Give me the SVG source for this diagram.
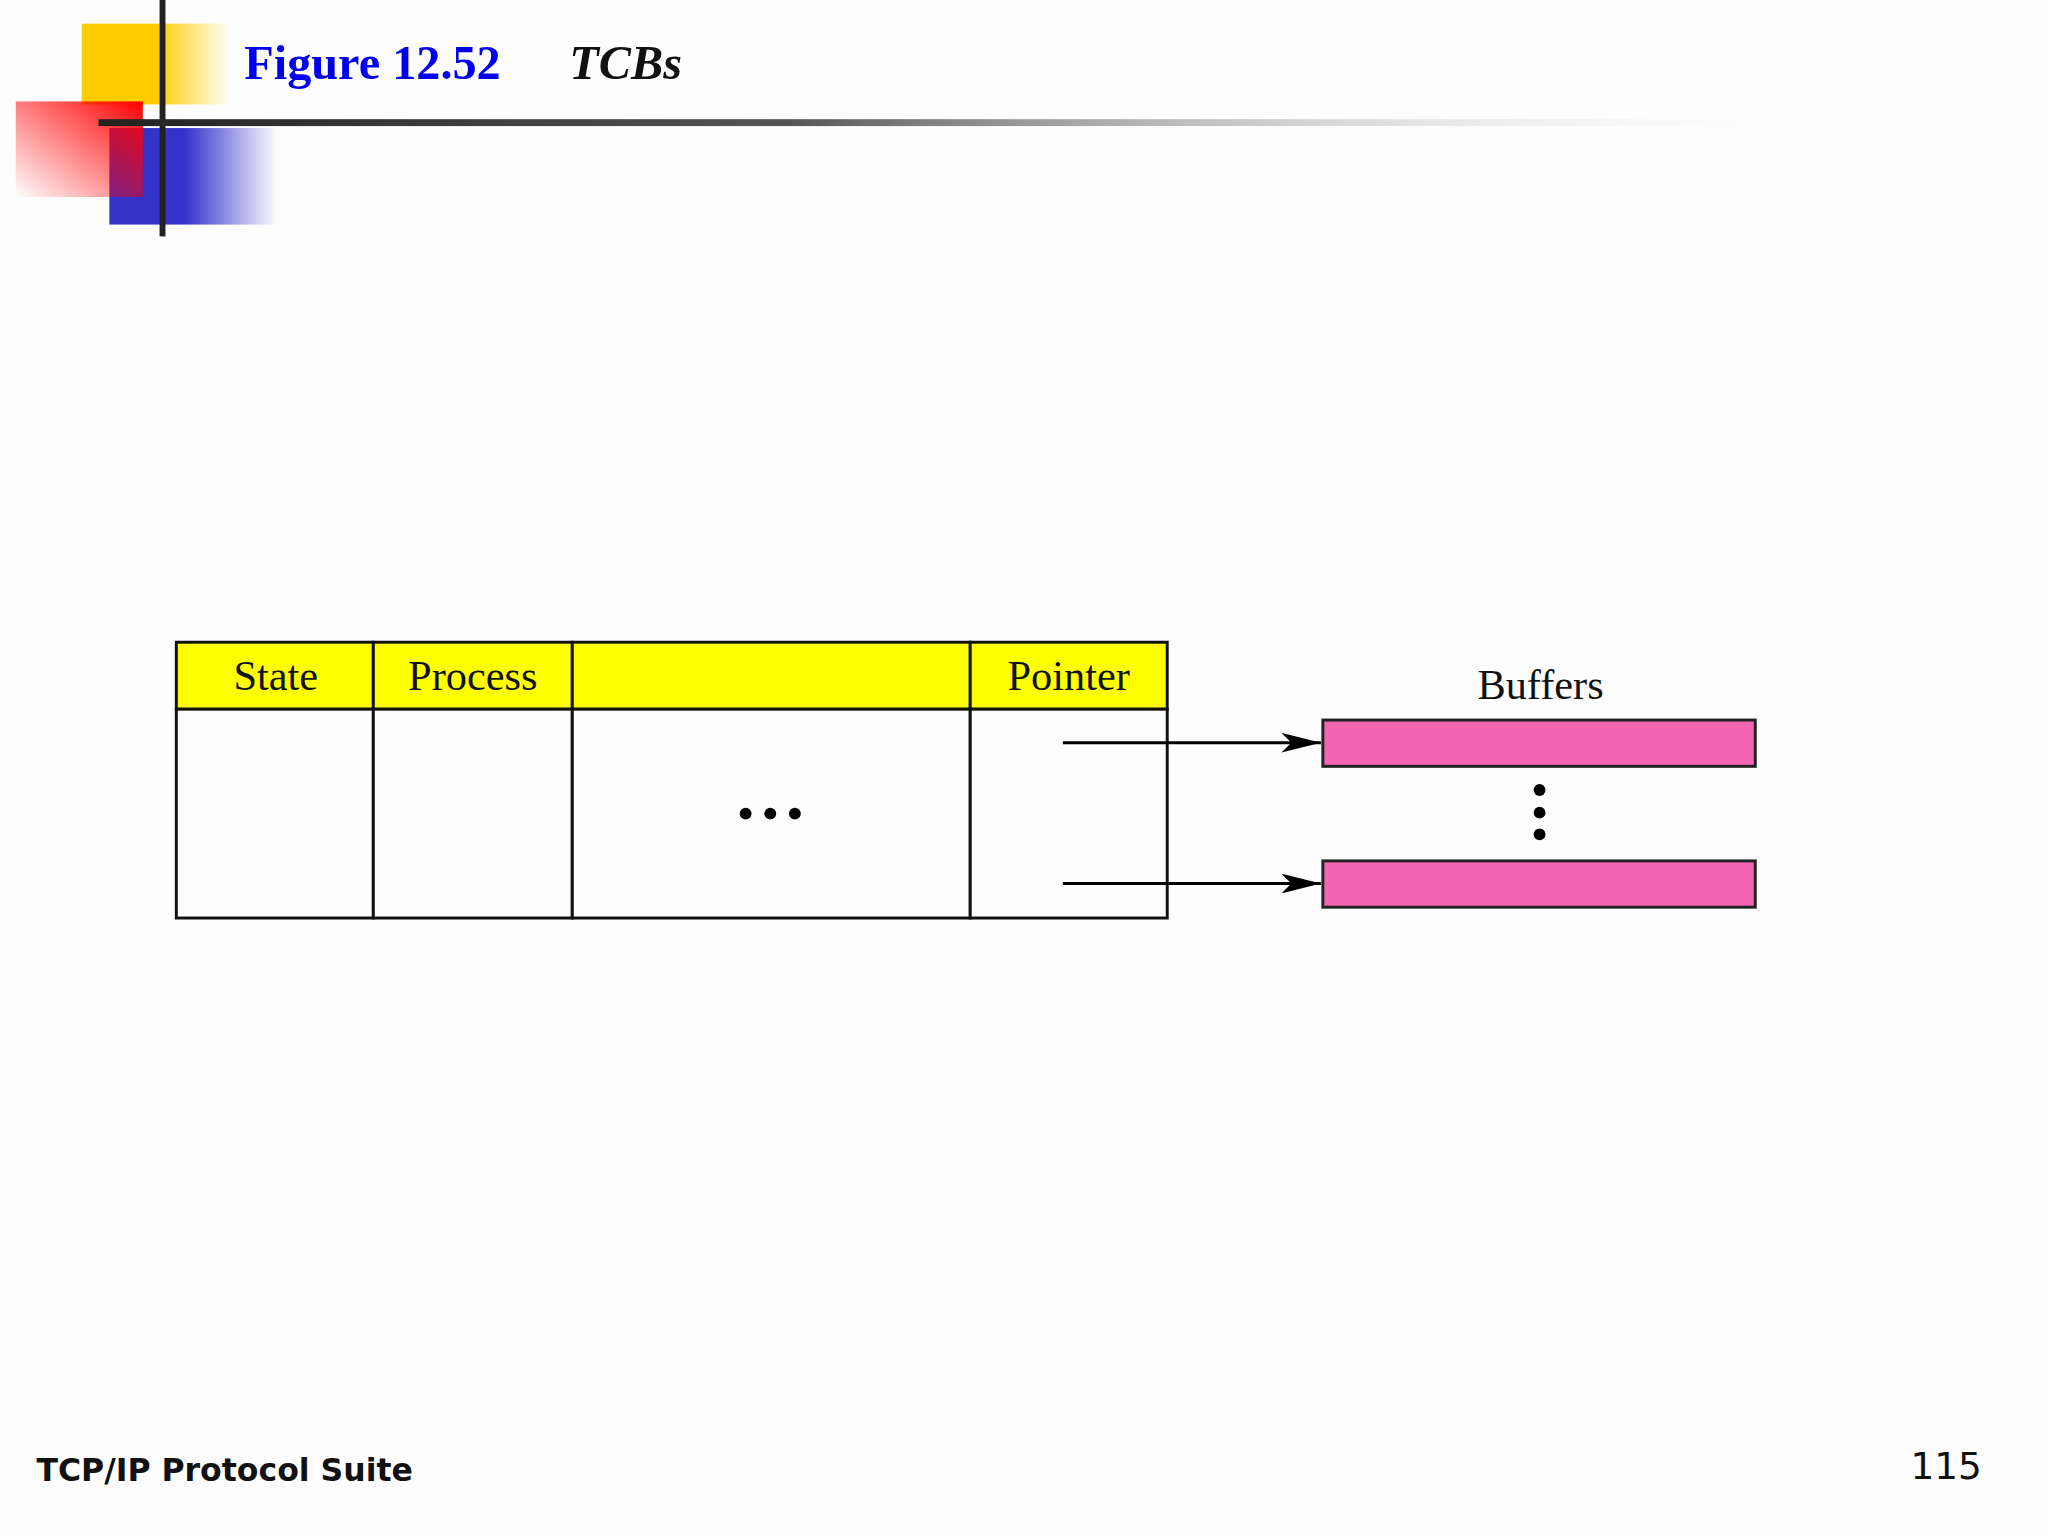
<svg xmlns="http://www.w3.org/2000/svg" width="2048" height="1536" viewBox="0 0 2048 1536">
<defs>
<linearGradient id="gy" x1="0" y1="0" x2="1" y2="0"><stop offset="0.5" stop-color="#ffcc00"/><stop offset="1" stop-color="#ffcc00" stop-opacity="0"/></linearGradient>
<linearGradient id="gr" x1="1" y1="0" x2="0" y2="1"><stop offset="0" stop-color="#ff0000"/><stop offset="1" stop-color="#ff0000" stop-opacity="0"/></linearGradient>
<linearGradient id="gb" x1="0" y1="0" x2="1" y2="0"><stop offset="0.45" stop-color="#3333cc"/><stop offset="1" stop-color="#3333cc" stop-opacity="0"/></linearGradient>
<linearGradient id="gl" x1="0" y1="0" x2="1" y2="0"><stop offset="0" stop-color="#222"/><stop offset="0.4" stop-color="#555"/><stop offset="1" stop-color="#fff" stop-opacity="0"/></linearGradient>
<marker id="ah" markerWidth="40" markerHeight="20" refX="40" refY="10" orient="auto" markerUnits="userSpaceOnUse"><path d="M0,0 L40,10 L0,20 L10,10 Z" fill="#000"/></marker>
<style>
.cell{fill:#fdfdfd;stroke:#111;stroke-width:3}
.hdr{fill:#ffff00;stroke:#111;stroke-width:3}
.buf{fill:#f466b4;stroke:#222;stroke-width:3}
.lbl{font-family:"Liberation Serif",serif;font-size:43px;text-anchor:middle;fill:#111}
.conn{stroke:#000;stroke-width:3;fill:none}
</style>
</defs>
<rect width="2048" height="1536" fill="#fdfdfd"/>
<g transform="scale(0.985)">
<g id="decor">
<rect x="83" y="24" width="150" height="82" fill="url(#gy)"/>
<rect x="111" y="130" width="170" height="98" fill="url(#gb)"/>
<rect x="16" y="103" width="129" height="97" fill="url(#gr)"/>
<rect x="162" y="0" width="6" height="240" fill="#222"/>
<rect x="100" y="121" width="1750" height="7" fill="url(#gl)"/>
</g>
<text x="248" y="80" font-family="Liberation Serif,serif" font-weight="bold" font-size="49" fill="#0000ee">Figure 12.52</text>
<text x="578" y="80" font-family="Liberation Serif,serif" font-weight="bold" font-style="italic" font-size="49" fill="#111">TCBs</text>
<g id="table">
<rect class="hdr" x="179" y="652" width="200" height="68"/>
<rect class="hdr" x="379" y="652" width="202" height="68"/>
<rect class="hdr" x="581" y="652" width="404" height="68"/>
<rect class="hdr" x="985" y="652" width="200" height="68"/>
<rect class="cell" x="179" y="720" width="200" height="212"/>
<rect class="cell" x="379" y="720" width="202" height="212"/>
<rect class="cell" x="581" y="720" width="404" height="212"/>
<rect class="cell" x="985" y="720" width="200" height="212"/>
<text class="lbl" x="280" y="700">State</text>
<text class="lbl" x="480" y="700">Process</text>
<text class="lbl" x="1085" y="700">Pointer</text>
<circle cx="757" cy="826" r="6"/><circle cx="782" cy="826" r="6"/><circle cx="807" cy="826" r="6"/>
</g>
<g id="buffers">
<text class="lbl" x="1564" y="710">Buffers</text>
<rect class="buf" x="1343" y="731" width="439" height="47"/>
<rect class="buf" x="1343" y="874" width="439" height="47"/>
<circle cx="1563" cy="802" r="6"/><circle cx="1563" cy="825" r="6"/><circle cx="1563" cy="847" r="6"/>
</g>
<g id="connectors">
<line class="conn" x1="1079" y1="754" x2="1341" y2="754" marker-end="url(#ah)"/>
<line class="conn" x1="1079" y1="897" x2="1341" y2="897" marker-end="url(#ah)"/>
</g>
<text x="37" y="1504" font-family="Verdana,DejaVu Sans,sans-serif" font-weight="bold" font-size="32" fill="#111">TCP/IP Protocol Suite</text>
<text x="2012" y="1502" font-family="DejaVu Sans,sans-serif" font-size="38" text-anchor="end" fill="#111">115</text>
</g>
</svg>
